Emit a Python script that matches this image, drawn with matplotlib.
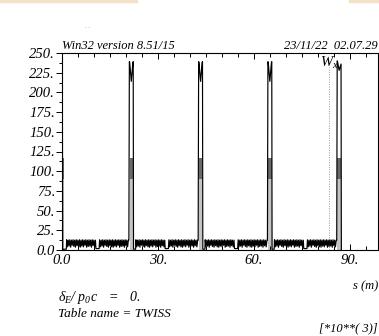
import matplotlib
matplotlib.use('Agg')
import matplotlib.pyplot as plt
from matplotlib.patches import Rectangle
from matplotlib.ticker import FixedLocator, FixedFormatter, MultipleLocator

plt.rcParams['font.family'] = ['Liberation Serif', 'DejaVu Serif']
plt.rcParams['font.style'] = 'italic'
plt.rcParams['mathtext.fontset'] = 'custom'
plt.rcParams['mathtext.it'] = 'Liberation Serif:italic'
plt.rcParams['mathtext.rm'] = 'Liberation Serif:italic'

# centres of the W peaks along the line (m)
peak_s = [0.0, 21.65, 43.3, 64.95, 86.6]

# inner peak shape, offsets from the peak centre
peak_left_ds = [-0.75, -0.6, -0.5]
peak_left_w = [12.5, 239.0, 238.0]
peak_right_ds = [0.0, 0.5, 0.6, 0.7, 1.35]
peak_right_w = [214.0, 238.0, 239.0, 1.0, 1.0]

# peaks at both ends of the line
first_ds = [0.0, 0.1, 0.2, 1.35]
first_w = [237.0, 236.0, 1.0, 1.0]
last_ds = [-0.75, -0.6, -0.5, 0.0, 0.5, 0.6, 0.7]
last_w = [12.5, 240.0, 239.0, 228.0, 235.0, 236.0, 0.0]

# small ripple between the peaks, two stretches per cell
comb_start_ds = [1.45, 11.75]
comb_ds = [0.0, 0.25, 0.5, 0.75, 1.0, 1.25, 1.5, 1.75, 2.0, 2.25,
           2.5, 2.75, 3.0, 3.25, 3.5, 3.75, 4.0, 4.25, 4.5, 4.75,
           5.0, 5.25, 5.5, 5.75, 6.0, 6.25, 6.5, 6.75, 7.0, 7.25,
           7.5, 7.75, 8.0, 8.25, 8.5, 8.75, 9.0]
comb_w = [13.0, 4.0, 12.5, 5.0, 13.0, 3.5, 12.5, 6.0, 13.0, 4.5,
          12.5, 3.5, 13.0, 5.5, 12.5, 4.0, 13.0, 3.5, 12.5, 5.0,
          13.0, 4.0, 12.5, 6.0, 13.0, 3.5, 12.5, 4.5, 13.0, 5.0,
          12.5, 3.5, 13.0, 5.5, 12.5, 4.0, 12.5]
dip_ds = [10.6, 11.6]
dip_w = [1.8, 1.8]

# shaded core of each peak
core_low_top = 90.0
core_high_top = 117.0
core_width = 1.1

marker_s = 83.5
marker_top = 232.0

x_ticks = [0.0, 30.0, 60.0, 90.0]
x_labels = ['0.0', '30.', '60.', '90.']
y_ticks = [0, 25, 50, 75, 100, 125, 150, 175, 200, 225, 250]
y_labels = ['0.0', '25.', '50.', '75.', '100.', '125.', '150.',
            '175.', '200.', '225.', '250.']


def build_curve():
    """Put together W along s from the peak and ripple pieces."""
    s, w = [], []
    n = len(peak_s)
    for i, c in enumerate(peak_s):
        if i == 0:
            s += [c + d for d in first_ds]
            w += first_w
        elif i == n - 1:
            s += [c + d for d in last_ds]
            w += last_w
            break
        else:
            s += [c + d for d in peak_left_ds + peak_right_ds]
            w += peak_left_w + peak_right_w
        s += [c + comb_start_ds[0] + d for d in comb_ds]
        w += comb_w
        s += [c + d for d in dip_ds]
        w += dip_w
        s += [c + comb_start_ds[1] + d for d in comb_ds]
        w += comb_w
    return s, w


s, w = build_curve()

fig = plt.figure(figsize=(3.79, 3.36), dpi=100)
ax = fig.add_axes([62 / 379, 1 - 250 / 336, 316 / 379, 197 / 336])

ax.bar(peak_s, [core_low_top] * len(peak_s), width=core_width,
       color='#c4c4c4', linewidth=0, zorder=1)
ax.bar(peak_s, [core_high_top - core_low_top] * len(peak_s),
       bottom=core_low_top, width=core_width, color='#6a6a6a',
       linewidth=0, zorder=1)
ax.plot(s, w, color='black', lw=0.85, zorder=2)
ax.plot([marker_s, marker_s], [0, marker_top], color='#9a9a9a',
        lw=0.7, ls=(0, (1, 1.5)), zorder=1)
ax.text(marker_s, 247, r'$W_x$', ha='center', va='top', fontsize=10.5)

ax.set_xlim(0, 98.75)
ax.set_ylim(0, 250)

ax.xaxis.set_major_locator(FixedLocator(x_ticks))
ax.xaxis.set_major_formatter(FixedFormatter(x_labels))
ax.xaxis.set_minor_locator(MultipleLocator(5))
ax.yaxis.set_major_locator(FixedLocator(y_ticks))
ax.yaxis.set_major_formatter(FixedFormatter(y_labels))
ax.yaxis.set_minor_locator(MultipleLocator(12.5))

ax.tick_params(axis='x', which='both', direction='in', top=True,
               bottom=True, labelsize=10.5, pad=3, width=0.7)
ax.tick_params(axis='x', which='major', length=4)
ax.tick_params(axis='x', which='minor', length=3)
ax.tick_params(axis='y', which='both', direction='out', right=False,
               labelsize=10.5, pad=0.5, width=0.7)
ax.tick_params(axis='y', which='major', length=4.5)
ax.tick_params(axis='y', which='minor', length=2)
for spine in ax.spines.values():
    spine.set_linewidth(0.8)

fig.text(62 / 379, 1 - 49 / 336, 'Win32 version 8.51/15', fontsize=9,
         ha='left', va='baseline')
fig.text(378 / 379, 1 - 49 / 336, '23/11/22  02.07.29', fontsize=9,
         ha='right', va='baseline')
fig.text(378 / 379, 1 - 289 / 336, 's (m)', fontsize=9,
         ha='right', va='baseline')
fig.text(58 / 379, 1 - 301 / 336, r'$\delta_E/\ p_0c\quad=\quad0.$',
         fontsize=10, ha='left', va='baseline')
fig.text(58 / 379, 1 - 317 / 336, 'Table name = TWISS', fontsize=9.5,
         ha='left', va='baseline')
fig.text(378 / 379, 1 - 331 / 336, '[*10**( 3)]', fontsize=9,
         ha='right', va='baseline')
fig.text(88 / 379, 1 - 29 / 336, '- -', fontsize=4, color='#b0b0b0',
         ha='center', va='baseline')

fig.patches.append(Rectangle((0, 1 - 2 / 336), 137 / 379, 2 / 336,
                             transform=fig.transFigure, color='#f3e2c6'))
fig.patches.append(Rectangle((349 / 379, 1 - 2 / 336), 30 / 379, 2 / 336,
                             transform=fig.transFigure, color='#f3e2c6'))

fig.savefig('out.png', dpi=100)
